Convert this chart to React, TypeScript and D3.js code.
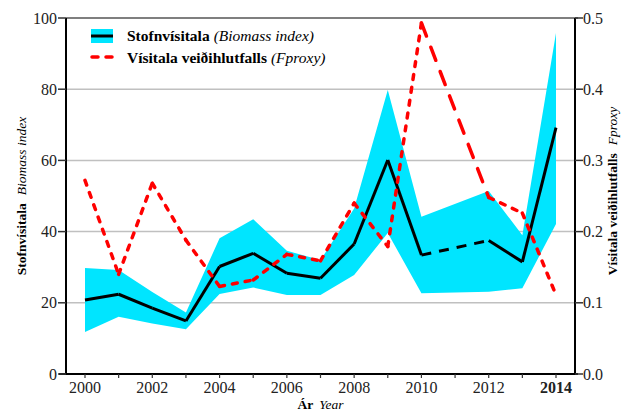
import React from "react";
import * as d3 from "d3";

// survey years (no survey in 2011)
const years = [2000, 2001, 2002, 2003, 2004, 2005, 2006, 2007, 2008, 2009, 2010, 2012, 2013, 2014];
const biomass = [20.8, 22.4, 18.5, 14.9, 30.2, 33.9, 28.3, 26.9, 36.5, 60.1, 33.4, 37.5, 31.5, 69.2];
const biomassHigh = [29.8, 29.2, 23.0, 17.3, 38.1, 43.5, 34.6, 32.0, 46.5, 79.8, 44.2, 51.4, 39.0, 95.8];
const biomassLow = [11.8, 16.1, 14.2, 12.6, 22.5, 24.3, 22.2, 22.2, 27.8, 39.6, 22.7, 23.1, 24.1, 42.1];
const fproxy = [0.272, 0.14, 0.268, 0.188, 0.123, 0.132, 0.168, 0.159, 0.24, 0.179, 0.493, 0.248, 0.226, 0.111];

const leftTicks = [0, 20, 40, 60, 80, 100];
const rightTicks = [0, 0.1, 0.2, 0.3, 0.4, 0.5];
const xTicks = [2000, 2002, 2004, 2006, 2008, 2010, 2012, 2014];
const xMinor = d3.range(2000, 2015);

const W = 628;
const H = 412;
const L = 66, R = 575, T = 18, B = 374;
const font = "'Liberation Serif', 'DejaVu Serif', serif";

export default function App() {
  const x = d3.scaleLinear().domain([2000, 2014]).range([85, 556]);
  const y = d3.scaleLinear().domain([0, 100]).range([B, T]);
  const yR = d3.scaleLinear().domain([0, 0.5]).range([B, T]);

  const band = d3
    .area<number>()
    .x((_, i) => x(years[i]))
    .y0((_, i) => y(biomassLow[i]))
    .y1((_, i) => y(biomassHigh[i]));

  // consecutive segments; a missing year gets a longer dash
  const segs = years.slice(1).map((yr, i) => ({ i, gap: yr - years[i] > 1 }));
  const seg = (vals: number[], sc: d3.ScaleLinear<number, number>, i: number) =>
    d3.line<number>()([
      [x(years[i]), sc(vals[i])],
      [x(years[i + 1]), sc(vals[i + 1])],
    ] as any);

  return (
    <svg width={W} height={H} style={{ position: "absolute", left: 0, top: 0 }} fontFamily={font}>
      <rect width={W} height={H} fill="#fff" />
      {leftTicks.slice(1, -1).map((t) => (
        <line key={t} x1={L} x2={R} y1={y(t)} y2={y(t)} stroke="#c0c0c0" strokeWidth={1.5} />
      ))}
      <path d={band(biomass) || ""} fill="#00e5ff" />
      {segs.map(({ i, gap }) => (
        <path
          key={"b" + i}
          d={seg(biomass, y, i) || ""}
          fill="none"
          stroke="#000"
          strokeWidth={3}
          strokeDasharray={gap ? "10 8" : undefined}
        />
      ))}
      {segs.map(({ i, gap }) => (
        <path
          key={"f" + i}
          d={seg(fproxy, yR, i) || ""}
          fill="none"
          stroke="#ff0000"
          strokeWidth={3.5}
          strokeLinecap="round"
          strokeDasharray={gap ? "14 12" : "5 8"}
        />
      ))}

      {/* frame */}
      <line x1={L} x2={R + 3} y1={T} y2={T} stroke="#555" strokeWidth={1.5} />
      <line x1={L - 7} x2={R + 3} y1={B} y2={B} stroke="#000" strokeWidth={2} />
      <line x1={L} x2={L} y1={T} y2={B} stroke="#000" strokeWidth={2} />
      <line x1={R} x2={R} y1={T} y2={B} stroke="#000" strokeWidth={2} />

      {leftTicks.map((t) => (
        <g key={t}>
          <line x1={L - 8} x2={L} y1={y(t)} y2={y(t)} stroke="#333" strokeWidth={1.5} />
          <text x={L - 9} y={y(t) + 5.5} textAnchor="end" fontSize={16} fill="#222">
            {t}
          </text>
        </g>
      ))}
      {rightTicks.map((t) => (
        <g key={t}>
          <line x1={R} x2={R + 8} y1={yR(t)} y2={yR(t)} stroke="#333" strokeWidth={1.5} />
          <text x={R + 8} y={yR(t) + 5.5} textAnchor="start" fontSize={16} fill="#222">
            {t.toFixed(1)}
          </text>
        </g>
      ))}
      {xMinor.map((t) => (
        <line key={t} x1={x(t)} x2={x(t)} y1={B} y2={B + 4} stroke="#333" strokeWidth={1.2} />
      ))}
      {xTicks.map((t) => (
        <text
          key={t}
          x={x(t)}
          y={B + 19}
          textAnchor="middle"
          fontSize={16}
          fill="#222"
          fontWeight={t === 2014 ? "bold" : "normal"}
        >
          {t}
        </text>
      ))}

      {/* axis titles */}
      <text x={(L + R) / 2} y={409} textAnchor="middle" fontSize={13.5}>
        <tspan fontWeight="bold">Ár</tspan>
        <tspan fontStyle="italic" dx={6}>Year</tspan>
      </text>
      <text transform={`translate(26,196) rotate(-90)`} textAnchor="middle" fontSize={13.5}>
        <tspan fontWeight="bold">Stofnvísitala</tspan>
        <tspan fontStyle="italic" dx={8}>Biomass index</tspan>
      </text>
      <text transform={`translate(617,191) rotate(-90)`} textAnchor="middle" fontSize={13.5}>
        <tspan fontWeight="bold">Vísitala veiðihlutfalls</tspan>
        <tspan fontStyle="italic" dx={8}>Fproxy</tspan>
      </text>

      {/* legend */}
      <rect x={91} y={29} width={22} height={14} fill="#00e5ff" />
      <line x1={91} x2={113} y1={36} y2={36} stroke="#000" strokeWidth={3} />
      <text x={127} y={41} fontSize={15.5}>
        <tspan fontWeight="bold">Stofnvísitala</tspan>
        <tspan fontStyle="italic" dx={4}>(Biomass index)</tspan>
      </text>
      <line x1={92} x2={112} y1={57} y2={57} stroke="#ff0000" strokeWidth={3.5} strokeLinecap="round" strokeDasharray="6 8" />
      <text x={127} y={63} fontSize={15.5}>
        <tspan fontWeight="bold">Vísitala veiðihlutfalls</tspan>
        <tspan fontStyle="italic" dx={4}>(Fproxy)</tspan>
      </text>
    </svg>
  );
}
